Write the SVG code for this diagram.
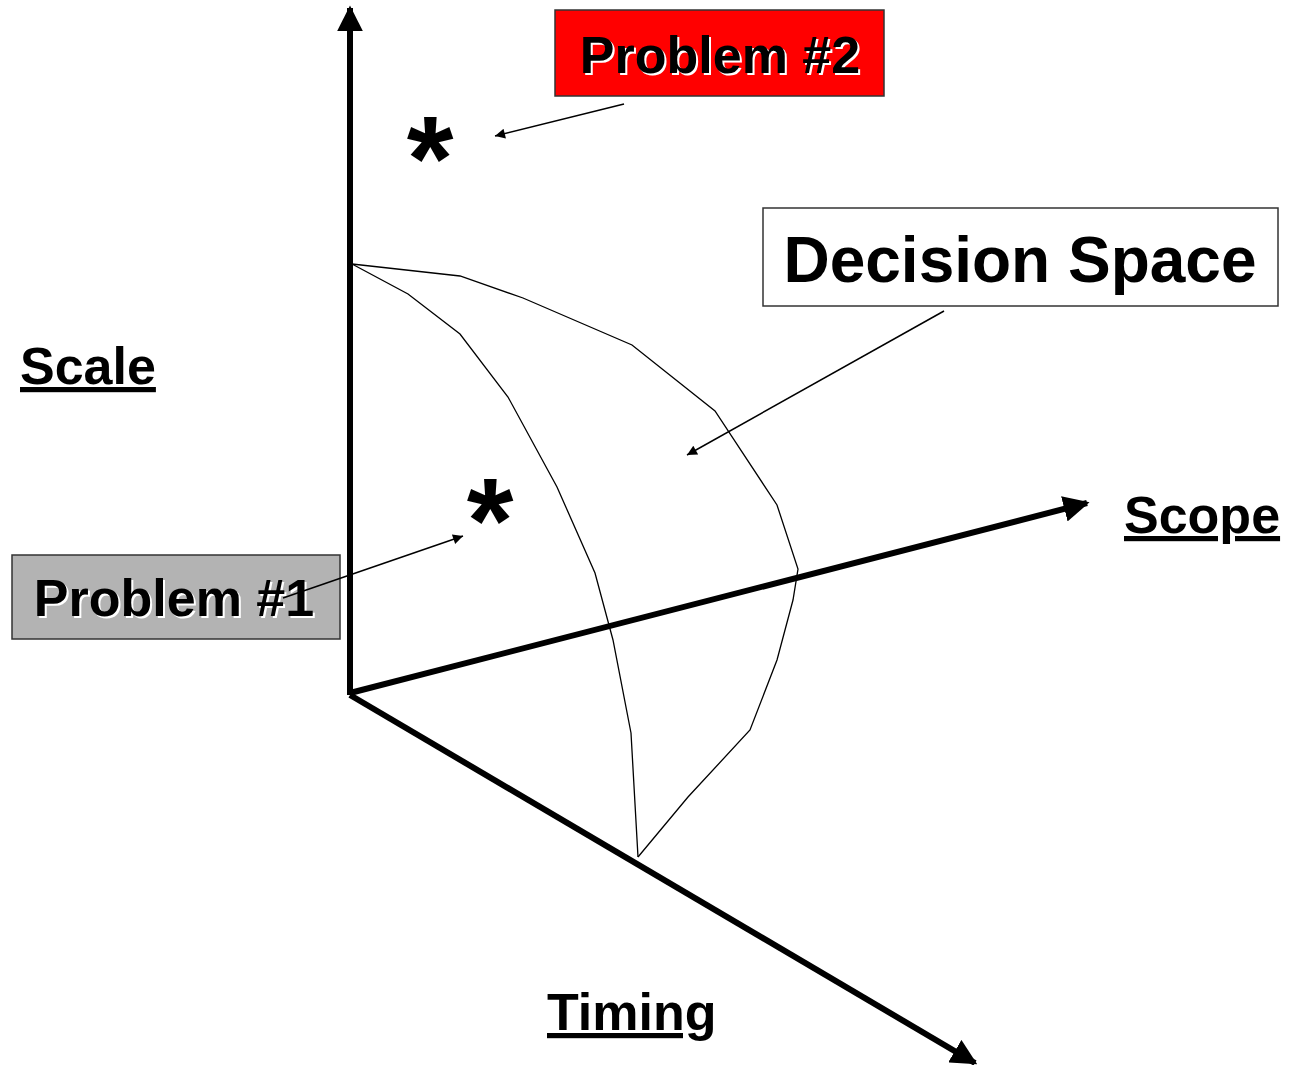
<svg xmlns="http://www.w3.org/2000/svg" width="1290" height="1065" viewBox="0 0 1290 1065">
<defs>
<marker id="big" viewBox="0 0 10 10" refX="9" refY="5" markerWidth="26" markerHeight="26" markerUnits="userSpaceOnUse" orient="auto"><path d="M0,0 L10,5 L0,10 z" fill="#000"/></marker>
<marker id="small" viewBox="0 0 10 10" refX="10" refY="5" markerWidth="14" markerHeight="10" markerUnits="userSpaceOnUse" orient="auto"><path d="M0,0 L10,5 L0,10 z" fill="#000"/></marker>
</defs>
<style>
.ax{stroke:#000;stroke-width:6;fill:none;marker-end:url(#big)}
.ptr{stroke:#000;stroke-width:1.5;fill:none;marker-end:url(#small)}
.t{font-family:"Liberation Sans",Arial,sans-serif;font-weight:bold;fill:#000}
.sh{fill:#fff}
.u{text-decoration:underline}
</style>
<g id="axes">
<line class="ax" x1="350" y1="695" x2="350" y2="8"/>
<line class="ax" x1="350" y1="693" x2="1087" y2="503"/>
<line class="ax" x1="350" y1="695" x2="975" y2="1063"/>
</g>
<g id="decision-space-shape" fill="none" stroke="#000" stroke-width="1.3">
<polyline points="352,264 460,276 523,298 632,345 715,411 777,505 798,569 793,600 777,660 750,730 688,797 638,857"/>
<polyline points="352,264 408,294 460,334 508,397 557,487 595,573 613,640 631,733 638,857"/>
</g>
<g id="problem2">
<rect x="555" y="10" width="329" height="86" fill="#ff0000" stroke="#333" stroke-width="1.5"/>
<text class="t sh" x="722" y="75" font-size="52" text-anchor="middle">Problem #2</text>
<text class="t" x="720" y="73" font-size="52" text-anchor="middle">Problem #2</text>
</g>
<g id="problem1">
<rect x="12" y="555" width="328" height="84" fill="#b3b3b3" stroke="#333" stroke-width="1.5"/>
<text class="t sh" x="176" y="618" font-size="52" text-anchor="middle">Problem #1</text>
<text class="t" x="174" y="616" font-size="52" text-anchor="middle">Problem #1</text>
</g>
<g id="decision-space">
<rect x="763" y="208" width="515" height="98" fill="#fff" stroke="#333" stroke-width="1.5"/>
<text class="t" x="1020" y="282" font-size="64" text-anchor="middle">Decision Space</text>
</g>
<g id="star2"><text class="t" x="430" y="200" font-size="120" text-anchor="middle">*</text></g>
<g id="star1"><text class="t" x="490" y="562" font-size="120" text-anchor="middle">*</text></g>
<g id="scale"><text class="t u" x="20" y="384" font-size="52">Scale</text></g>
<g id="scope"><text class="t u" x="1124" y="533" font-size="52">Scope</text></g>
<g id="timing"><text class="t u" x="547" y="1030" font-size="52">Timing</text></g>
<g id="connectors">
<line class="ptr" x1="624" y1="104" x2="495" y2="136"/>
<line class="ptr" x1="283" y1="598" x2="463" y2="536"/>
<line class="ptr" x1="944" y1="311" x2="687" y2="455"/>
</g>
</svg>
